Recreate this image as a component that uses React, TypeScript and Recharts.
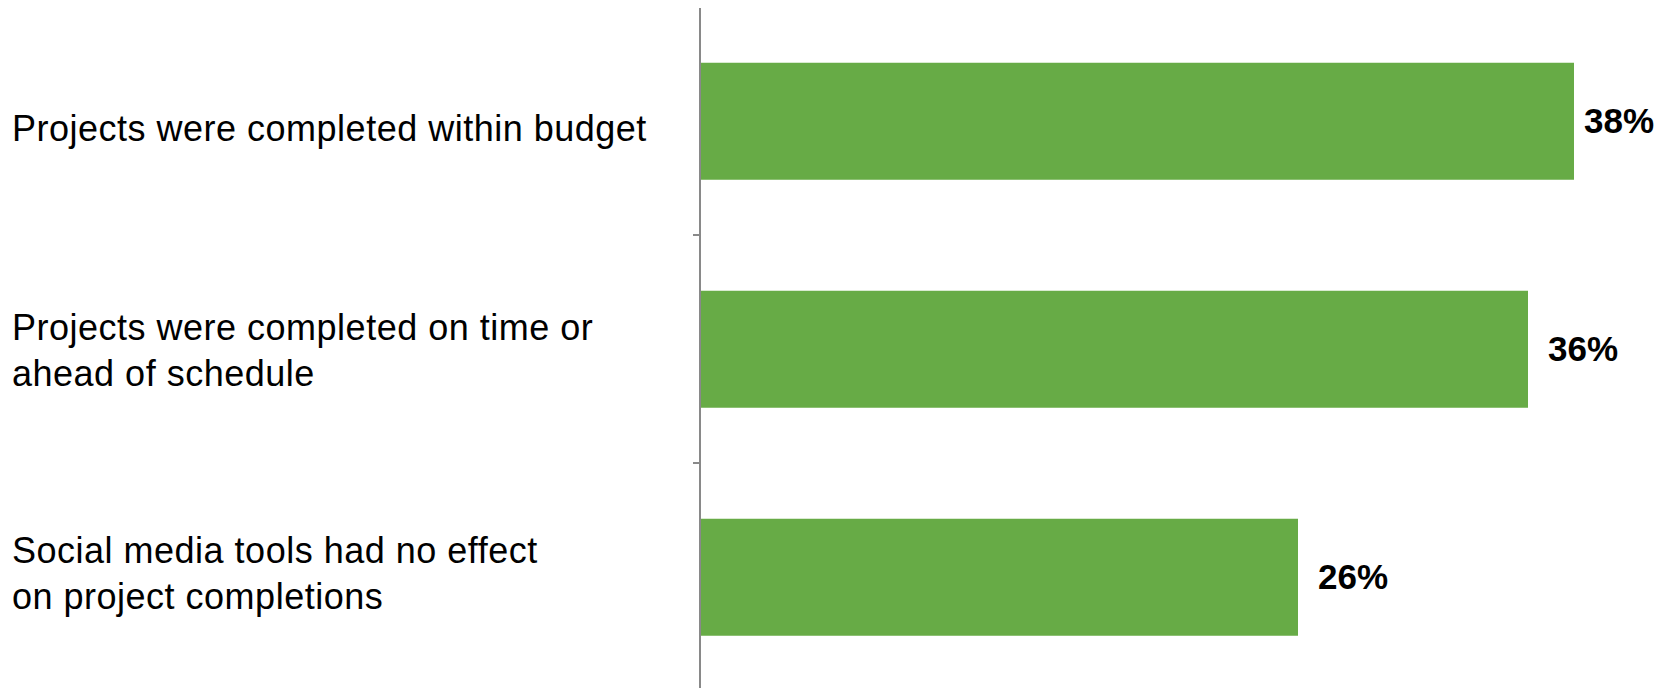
import React from 'react';
import { Bar, BarChart, LabelList, XAxis, YAxis } from 'recharts';

const categories = [
  'Projects were completed within budget',
  'Projects were completed on time or\nahead of schedule',
  'Social media tools had no effect\non project completions',
];
const shares = [38, 36, 26];
const shareLabels = ['38%', '36%', '26%'];

const data = categories.map((name, i) => ({ name, value: shares[i], label: shareLabels[i] }));

const CHART_W = 1669;
const CHART_H = 700;
const MARGIN = { top: 7, right: 49, bottom: 9, left: 0 };
const AXIS_W = 700;
const BAND = (CHART_H - MARGIN.top - MARGIN.bottom) / categories.length;
const GREEN = '#67ab46';
const AXIS_GREY = '#898989';
const FONT = '"Liberation Sans", Arial, sans-serif';

const CategoryTick = (props: any) => {
  const { y, payload, index } = props;
  const lines: string[] = String(payload.value).split('\n');
  const lineHeight = 46;
  // the original text boxes sit a little tighter together than the bars
  const centre = y + 1.6 + (1 - index) * 5.6;
  const firstY = centre - ((lines.length - 1) * lineHeight) / 2;
  const last = index === categories.length - 1;
  return (
    <g>
      <text fontFamily={FONT} fontSize={36} letterSpacing={0.5} fill="#000" textAnchor="start">
        {lines.map((line, i) => (
          <tspan key={i} x={12} y={firstY + i * lineHeight} dy="0.35em">
            {line}
          </tspan>
        ))}
      </text>
      <line x1={AXIS_W - 7} x2={AXIS_W} y1={y - BAND / 2} y2={y - BAND / 2} stroke={AXIS_GREY} strokeWidth={2} />
      {last && (
        <line x1={AXIS_W - 7} x2={AXIS_W} y1={y + BAND / 2} y2={y + BAND / 2} stroke={AXIS_GREY} strokeWidth={2} />
      )}
    </g>
  );
};

const ValueLabel = (props: any) => {
  const { x, y, width, height, value } = props;
  // keep the label inside the chart, like the original does near the right edge
  const lx = Math.min(x + width + 20, CHART_W - 85);
  return (
    <text
      x={lx}
      y={y + height / 2}
      dy="0.35em"
      fontFamily={FONT}
      fontSize={35}
      fontWeight="bold"
      fill="#000"
    >
      {value}
    </text>
  );
};

export default function App() {
  return (
    <div style={{ margin: -8, width: CHART_W, height: CHART_H, background: '#fff' }}>
      <BarChart
        width={CHART_W}
        height={CHART_H}
        data={data}
        layout="vertical"
        margin={MARGIN}
        barCategoryGap="24.4%"
      >
        <XAxis type="number" domain={[0, 40]} hide />
        <YAxis
          type="category"
          dataKey="name"
          width={AXIS_W}
          axisLine={{ stroke: AXIS_GREY, strokeWidth: 2 }}
          tickLine={false}
          tick={<CategoryTick />}
          interval={0}
        />
        <Bar dataKey="value" fill={GREEN} isAnimationActive={false}>
          <LabelList dataKey="label" content={<ValueLabel />} />
        </Bar>
      </BarChart>
    </div>
  );
}
